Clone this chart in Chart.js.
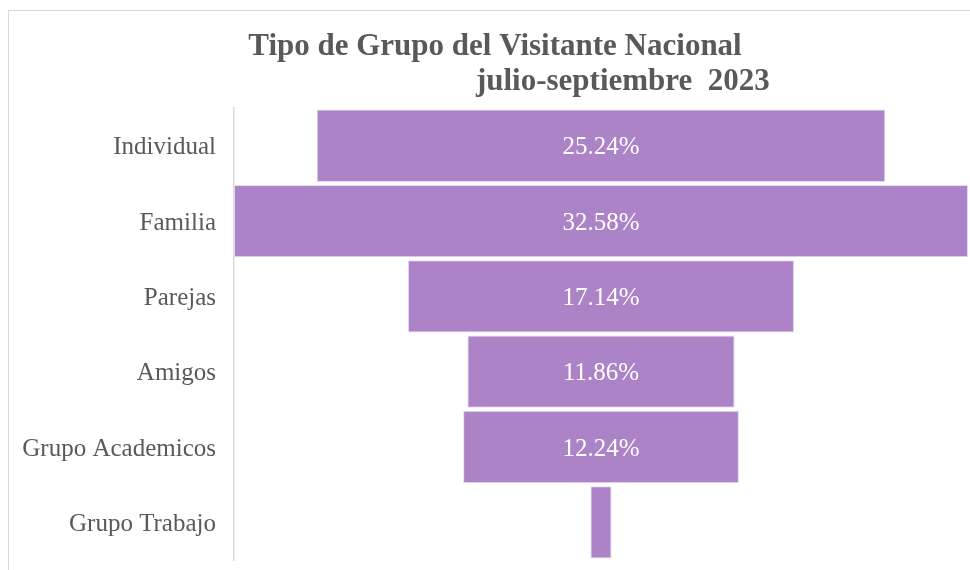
<!DOCTYPE html>
<html>
<head>
<meta charset="utf-8">
<script src="https://cdn.jsdelivr.net/npm/chart.js@4"></script>
<style>
  html, body { margin: 0; padding: 0; background: #ffffff; }
  #wrap { width: 970px; height: 570px; }
</style>
</head>
<body>
<div id="wrap"><canvas id="c" width="970" height="570"></canvas></div>
<script>
const categories = ['Individual', 'Familia', 'Parejas', 'Amigos', 'Grupo Academicos', 'Grupo Trabajo'];
const values = [25.24, 32.58, 17.14, 11.86, 12.24, 0.94];
const titleLines = [
  'Tipo de Grupo del Visitante Nacional',
  '\u00a0'.repeat(33) + 'julio-septiembre\u00a0\u00a02023'
];

const maxVal = Math.max(...values);
const funnelData = values.map(v => [-v / 2, v / 2]);

const framePlugin = {
  id: 'frame',
  beforeDraw(chart) {
    const ctx = chart.ctx;
    ctx.save();
    ctx.fillStyle = '#ffffff';
    ctx.fillRect(0, 0, chart.width, chart.height);
    ctx.strokeStyle = '#d9d9d9';
    ctx.lineWidth = 1;
    ctx.strokeRect(8.5, 10.5, chart.width + 20, chart.height + 20);
    ctx.restore();
  }
};

const valueLabelPlugin = {
  id: 'valueLabels',
  afterDatasetsDraw(chart) {
    const ctx = chart.ctx;
    const meta = chart.getDatasetMeta(0);
    ctx.save();
    ctx.font = '25px "Liberation Serif"';
    ctx.fillStyle = '#ffffff';
    ctx.textAlign = 'center';
    ctx.textBaseline = 'middle';
    meta.data.forEach((el, i) => {
      const txt = values[i].toFixed(2) + '%';
      const w = Math.abs(el.x - el.base);
      if (w < ctx.measureText(txt).width + 6) return;
      ctx.fillText(txt, (el.x + el.base) / 2, el.y + 2);
    });
    ctx.restore();
  }
};

new Chart(document.getElementById('c'), {
  type: 'bar',
  data: {
    labels: categories,
    datasets: [{
      data: funnelData,
      backgroundColor: '#ab83c6',
      borderColor: '#e6dbee',
      borderWidth: 1,
      borderSkipped: false,
      barPercentage: 0.96,
      categoryPercentage: 1.0
    }]
  },
  options: {
    indexAxis: 'y',
    responsive: false,
    animation: false,
    devicePixelRatio: 1,
    layout: { padding: { left: 22, right: 2, top: 12, bottom: 10 } },
    plugins: {
      legend: { display: false },
      tooltip: { enabled: false },
      title: {
        display: true,
        text: titleLines,
        color: '#595959',
        font: { family: '"Liberation Serif"', size: 31, weight: 'bold', lineHeight: 1.13 },
        padding: { top: 17, bottom: 9 }
      }
    },
    scales: {
      x: {
        display: false,
        min: -maxVal / 2,
        max: maxVal / 2
      },
      y: {
        afterFit(scale) {
          scale.width = 212;
          scale.paddingTop = 0;
          scale.paddingBottom = 0;
        },
        grid: { display: false, drawTicks: false },
        border: { display: true, color: '#d9d9d9', width: 1.5 },
        ticks: {
          color: '#595959',
          padding: 18,
          labelOffset: 2,
          font: { family: '"Liberation Serif"', size: 25 }
        }
      }
    }
  },
  plugins: [framePlugin, valueLabelPlugin]
});
</script>
</body>
</html>
